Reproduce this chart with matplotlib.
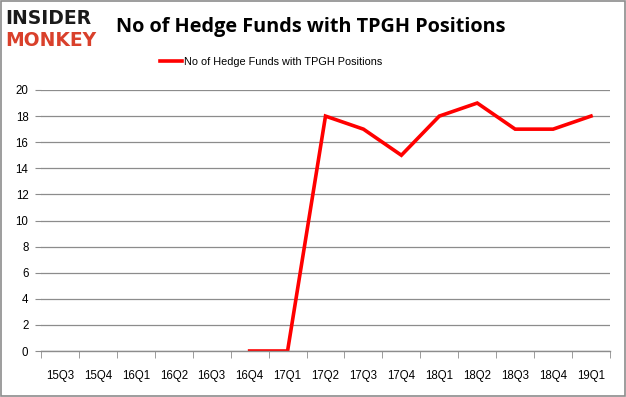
import numpy as np
import matplotlib
matplotlib.use("Agg")
import matplotlib.pyplot as plt
from matplotlib.patches import Rectangle

quarters = ["15Q3", "15Q4", "16Q1", "16Q2", "16Q3", "16Q4", "17Q1", "17Q2",
            "17Q3", "17Q4", "18Q1", "18Q2", "18Q3", "18Q4", "19Q1"]
funds = [np.nan, np.nan, np.nan, np.nan, np.nan, 0, 0, 18,
         17, 15, 18, 19, 17, 17, 18]
series_name = "No of Hedge Funds with TPGH Positions"
title = "No of Hedge Funds with TPGH Positions"
y_ticks = list(range(0, 21, 2))

plt.rcParams["font.family"] = ["Liberation Sans", "DejaVu Sans"]

fig = plt.figure(figsize=(6.26, 3.97), dpi=100)
fig.patch.set_facecolor("white")
fig.add_artist(Rectangle((0.0015, 0.0025), 0.997, 0.995, transform=fig.transFigure,
                         fill=False, edgecolor="#8c8c8c", linewidth=1.2))

ax = fig.add_axes([41/626, 1-351/397, (610-41)/626, (351-90)/397])
x = np.arange(len(quarters))
ax.plot(x, funds, color="#ff0000", linewidth=2.6, label=series_name, solid_joinstyle="miter")

ax.set_xlim(-0.5, len(quarters) - 0.5)
ax.set_ylim(0, 20)
ax.set_yticks(y_ticks)
ax.set_xticks(x)
ax.set_xticklabels(quarters, fontsize=8.3)
ax.set_xticks(np.arange(-0.5, len(quarters), 1.0), minor=True)
ax.tick_params(axis="x", which="major", length=0, pad=14)
ax.tick_params(axis="x", which="minor", length=5, color="#8c8c8c", direction="out")
ax.tick_params(axis="y", length=4, color="#8c8c8c", labelsize=8.3, pad=5)
ax.grid(axis="y", color="#8c8c8c", linewidth=0.9)
ax.set_axisbelow(True)
for s in ["top", "right", "left"]:
    ax.spines[s].set_visible(False)
ax.spines["bottom"].set_color("#8c8c8c")
ax.spines["bottom"].set_linewidth(1.0)

fig.text(116/626, 1-27/397, title, fontsize=14.3, fontweight="bold",
         ha="left", va="center", family="Open Sans", color="black")
fig.legend(loc="center left", bbox_to_anchor=(160/626, 1-62/397), frameon=False,
           fontsize=7.8, handlelength=2.0, handletextpad=0.2, borderaxespad=0, borderpad=0)

fig.text(5/626, 1-18/397, "INSIDER", fontsize=13.5, fontweight="heavy",
         family="DejaVu Sans", color="#1a1a1a", ha="left", va="center")
fig.text(5/626, 1-40/397, "MONKEY", fontsize=13.5, fontweight="heavy",
         family="DejaVu Sans", color="#d9402b", ha="left", va="center")

fig.savefig("out.png", dpi=100, facecolor="white")
